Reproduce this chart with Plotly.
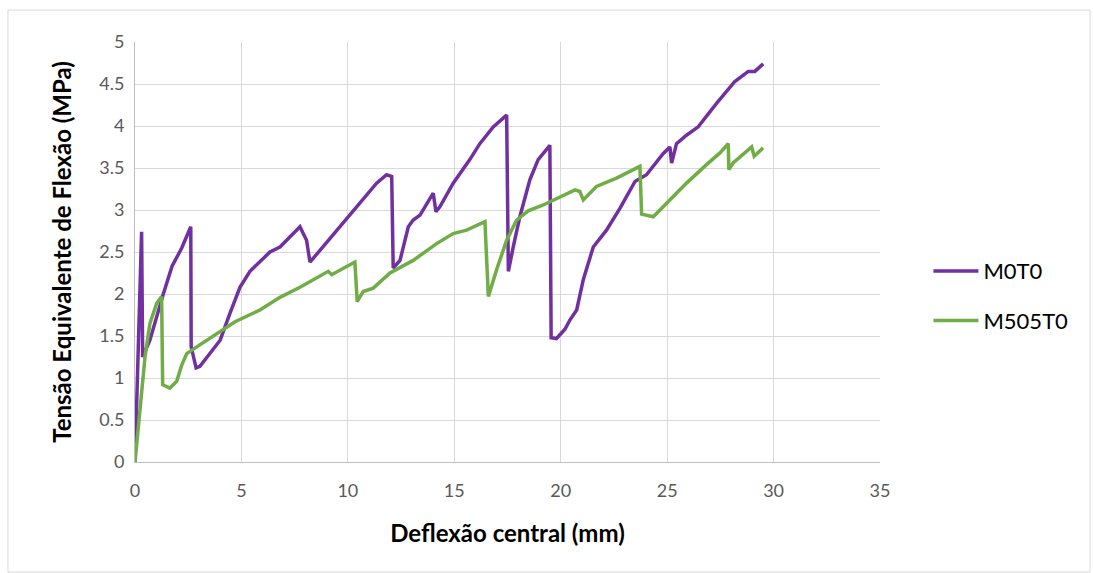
import plotly.graph_objects as go

m0t0_x = [0, 0.05, 0.31, 0.36, 0.7, 1.33, 1.74, 2.2, 2.62, 2.64, 2.87, 3.05, 4.0, 4.46, 4.93, 5.4, 6.34,
          6.81, 7.75, 8.06, 8.22, 8.69, 9.94, 11.35, 11.82, 12.06, 12.13, 12.45, 12.84, 13.07, 13.39,
          14.01, 14.14, 14.33, 14.95, 15.73, 16.2, 16.83, 17.46, 17.54, 17.77, 18.08, 18.55, 18.94,
          19.49, 19.55, 19.8, 20.2, 20.43, 20.75, 21.06, 21.53, 22.15, 22.78, 23.49, 24.03, 24.81,
          25.13, 25.21, 25.44, 25.91, 26.46, 27.32, 28.18, 28.81, 29.12, 29.51]
m0t0_y = [0, 0.5, 2.74, 1.25, 1.45, 2.0, 2.33, 2.55, 2.8, 1.37, 1.12, 1.14, 1.45, 1.77, 2.08, 2.27, 2.5,
          2.56, 2.8, 2.64, 2.38, 2.52, 2.9, 3.32, 3.42, 3.40, 2.31, 2.40, 2.8, 2.88, 2.94,
          3.2, 2.98, 3.04, 3.32, 3.6, 3.79, 3.99, 4.13, 2.27, 2.56, 2.92, 3.36, 3.6,
          3.77, 1.48, 1.47, 1.58, 1.69, 1.81, 2.17, 2.56, 2.76, 3.02, 3.34, 3.42, 3.67,
          3.75, 3.56, 3.79, 3.89, 3.99, 4.27, 4.53, 4.65, 4.65, 4.74]

m505_x = [0, 0.23, 0.47, 0.7, 1.02, 1.25, 1.3, 1.64, 1.96, 2.19, 2.43, 2.9, 3.84, 4.7, 5.87, 6.81,
          7.75, 9.08, 9.24, 10.33, 10.44, 10.72, 11.19, 11.98, 13.07, 14.17, 14.95, 15.58, 16.44,
          16.6, 16.99, 17.46, 17.93, 18.47, 19.18, 19.96, 20.67, 20.9, 21.06, 21.68, 22.62, 23.72,
          23.8, 24.35, 24.97, 25.91, 26.85, 27.48, 27.87, 27.9, 28.1, 28.57, 28.97, 29.09, 29.51]
m505_y = [0, 0.58, 1.25, 1.65, 1.89, 1.97, 0.92, 0.88, 0.96, 1.15, 1.29, 1.37, 1.53, 1.67, 1.81, 1.96,
          2.08, 2.27, 2.23, 2.38, 1.91, 2.03, 2.07, 2.25, 2.4, 2.6, 2.72, 2.76, 2.86,
          1.97, 2.29, 2.64, 2.88, 2.99, 3.06, 3.16, 3.24, 3.22, 3.12, 3.28, 3.38, 3.52,
          2.95, 2.92, 3.08, 3.32, 3.54, 3.68, 3.79, 3.48, 3.56, 3.66, 3.75, 3.64, 3.74]

fig = go.Figure()
fig.add_trace(go.Scatter(x=m0t0_x, y=m0t0_y, mode="lines", name="M0T0", legendgroup="a",
                         line=dict(color="#7030A0", width=3.5)))
fig.add_trace(go.Scatter(x=m505_x, y=m505_y, mode="lines", name="M505T0", legendgroup="b",
                         line=dict(color="#70AD47", width=3.5)))

font_family = "Lato, Open Sans, sans-serif"
fig.update_layout(
    width=1093, height=573,
    margin=dict(l=135, r=213, t=42, b=111),
    paper_bgcolor="white", plot_bgcolor="white",
    font=dict(family=font_family, color="#595959", size=18),
    legend=dict(x=1.065, y=0.395, yanchor="middle", xanchor="left",
                font=dict(size=22, color="#000000"), tracegroupgap=18, traceorder="grouped",
                itemwidth=45, bgcolor="rgba(0,0,0,0)"),
    xaxis=dict(range=[0, 35], dtick=5, tick0=0, showgrid=True, gridcolor="#d9d9d9", gridwidth=1,
               showline=True, linecolor="#bfbfbf", linewidth=1, zeroline=False,
               ticks="", ticklabelstandoff=12, tickfont=dict(size=18, color="#595959"),
               title=dict(text="<b>Deflexão central (mm)</b>", font=dict(size=24, color="#000000"), standoff=25)),
    yaxis=dict(range=[0, 5], dtick=0.5, tick0=0, showgrid=True, gridcolor="#d9d9d9", gridwidth=1,
               showline=True, linecolor="#bfbfbf", linewidth=1, zeroline=False,
               ticks="", ticklabelstandoff=6, tickfont=dict(size=18, color="#595959"),
               title=dict(text="<b>Tensão Equivalente de Flexão (MPa)</b>", font=dict(size=24, color="#000000"), standoff=20)),
    shapes=[dict(type="rect", xref="paper", yref="paper",
                 x0=-0.1705, x1=1.282, y0=-0.262, y1=1.076,
                 line=dict(color="#d9d9d9", width=1), fillcolor="rgba(0,0,0,0)", layer="below")],
)

fig.write_html("out.html")
